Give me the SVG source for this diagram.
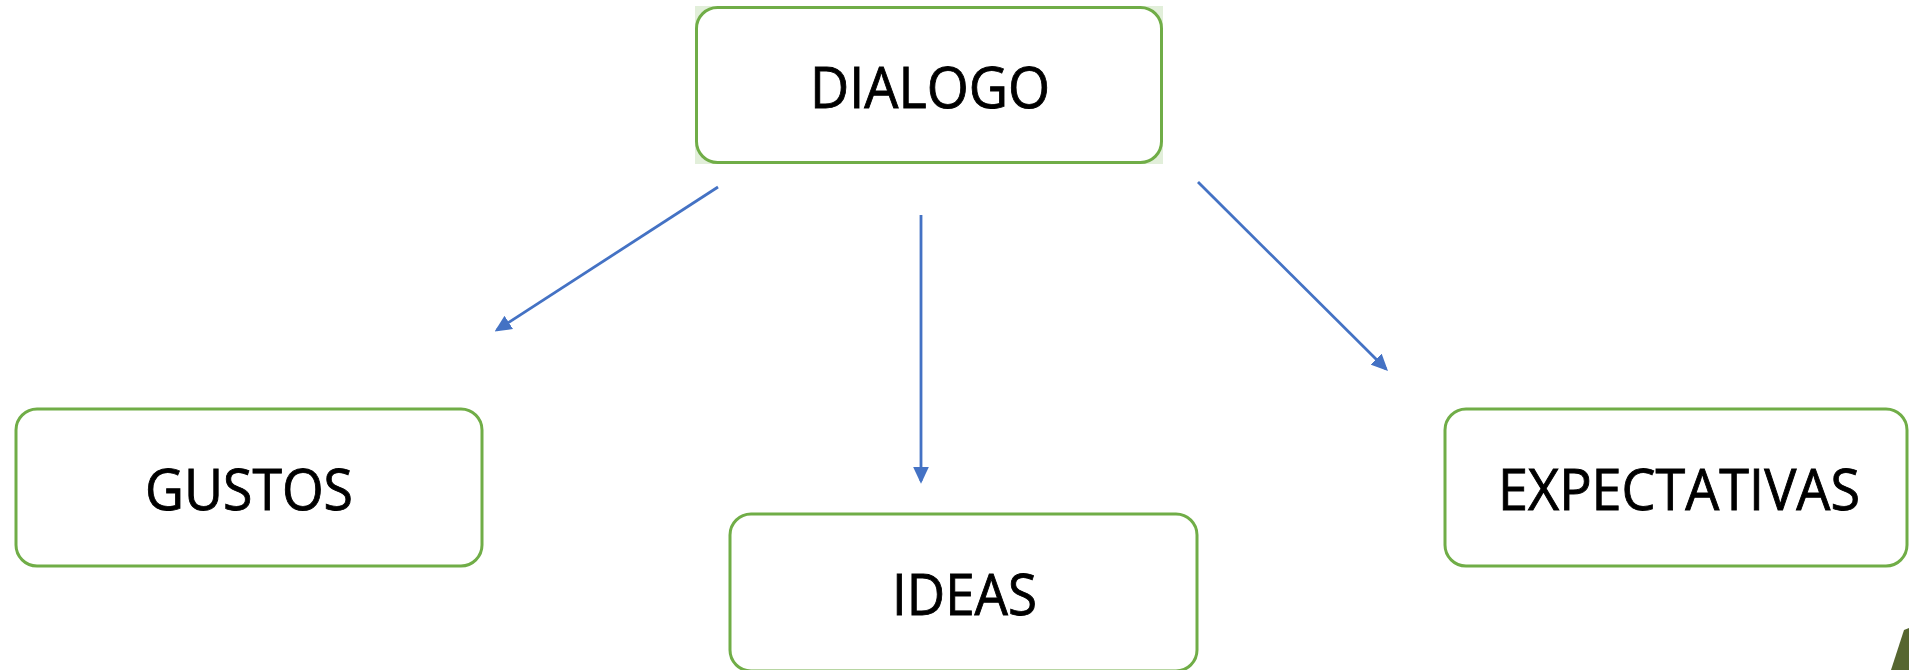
<svg xmlns="http://www.w3.org/2000/svg" width="1909" height="670" viewBox="0 0 1909 670">
<style>
.box{fill:#ffffff;stroke:#70AD47;stroke-width:3}
.lbl{font-family:"Open Sans","Noto Sans",sans-serif;font-size:57px;fill:#000000;stroke:#000000;stroke-width:0.9;text-anchor:middle}
.con{stroke:#4472C4;stroke-width:2.8;fill:none}
</style>
<defs>
<marker id="ah" markerWidth="6" markerHeight="6" refX="5" refY="3" orient="auto" markerUnits="strokeWidth">
<path d="M0,0.2 L6,3 L0,5.8 Z" fill="#4472C4"/>
</marker>
</defs>
<rect x="0" y="0" width="1909" height="670" fill="#ffffff"/>
<g id="dialogo">
<rect x="695" y="6" width="468" height="158" fill="#E2EFDA"/>
<rect class="box" x="696.5" y="7.5" width="465" height="155" rx="21"/>
<text class="lbl" x="930" y="108" textLength="240" lengthAdjust="spacingAndGlyphs">DIALOGO</text>
</g>
<g id="gustos">
<rect class="box" x="16" y="409" width="466" height="157" rx="21"/>
<text class="lbl" x="249" y="510" textLength="208" lengthAdjust="spacingAndGlyphs">GUSTOS</text>
</g>
<g id="ideas">
<rect class="box" x="730" y="514" width="467" height="157" rx="21"/>
<text class="lbl" x="964.5" y="615" textLength="145" lengthAdjust="spacingAndGlyphs">IDEAS</text>
</g>
<g id="expectativas">
<rect class="box" x="1445" y="409" width="462" height="157" rx="21"/>
<text class="lbl" x="1679" y="510" textLength="362" lengthAdjust="spacingAndGlyphs">EXPECTATIVAS</text>
</g>
<g id="connectors">
<line class="con" x1="718" y1="187" x2="497" y2="330" marker-end="url(#ah)"/>
<line class="con" x1="921" y1="215" x2="921" y2="481" marker-end="url(#ah)"/>
<line class="con" x1="1198" y1="182" x2="1386" y2="369" marker-end="url(#ah)"/>
</g>
<polygon points="1891,670 1904,630 1909,628 1909,670" fill="#566630"/>
</svg>
